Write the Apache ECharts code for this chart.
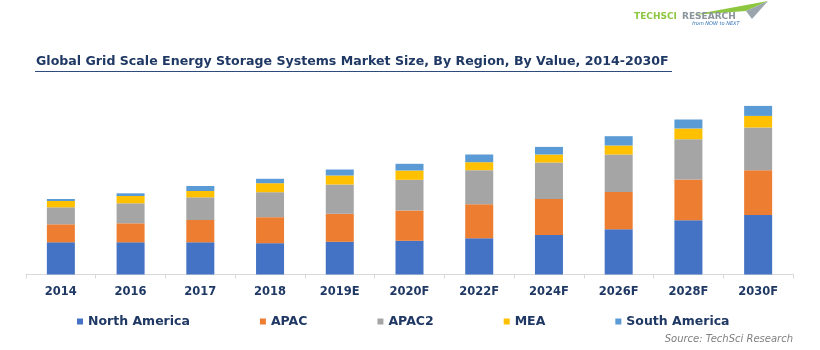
<!DOCTYPE html>
<html>
<head>
<meta charset="utf-8">
<script src="https://cdn.jsdelivr.net/npm/echarts@6/dist/echarts.min.js"></script>
<style>
    html, body { margin: 0; background: #fff; }
    #main { width: 820px; height: 350px; }
</style>
</head>
<body>
<div id="main"></div>
<script>
    var years = ['2014', '2016', '2017', '2018', '2019E', '2020F', '2022F', '2024F', '2026F', '2028F', '2030F'];
    var northAmerica = [32.2, 32.2, 32.2, 31.3, 32.7, 33.7, 36.3, 39.6, 45.3, 54.3, 59.6];
    var apac = [18, 19, 22.3, 26, 28, 30.3, 34, 36, 37.3, 40.7, 44.7];
    var apac2 = [17, 20, 22.7, 25, 29.3, 30.7, 34, 36.4, 37.4, 40.3, 42.7];
    var mea = [6.3, 7.3, 6.3, 9, 9, 9.3, 8, 8, 9, 10.7, 11.6];
    var southAmerica = [2, 2.7, 5, 4.4, 6, 6.7, 7.7, 7.6, 9.3, 9, 10];

    var navy = '#1f3864';
    var font = 'DejaVu Sans';

    var chart = echarts.init(document.getElementById('main'));

    function bar(name, data, color) {
        return {
            name: name,
            type: 'bar',
            stack: 'total',
            barWidth: 28,
            itemStyle: { color: color },
            data: data
        };
    }

    chart.setOption({
        animation: false,
        title: {
            text: 'Global Grid Scale Energy Storage Systems Market Size, By Region, By Value, 2014-2030F',
            left: 36,
            top: 55,
            padding: 0,
            textStyle: { fontFamily: font, fontSize: 12.6, fontWeight: 'bold', color: navy }
        },
        legend: {
            left: 77,
            top: 315,
            padding: 0,
            itemWidth: 6,
            itemHeight: 6,
            itemGap: 70,
            icon: 'rect',
            textStyle: { fontFamily: font, fontSize: 12.5, fontWeight: 'bold', color: navy },
            data: ['North America', 'APAC', 'APAC2', 'MEA', 'South America']
        },
        grid: { left: 26, right: 27, top: 99.5, bottom: 75.5 },
        xAxis: {
            type: 'category',
            data: years,
            axisLine: { lineStyle: { color: '#d9d9d9' } },
            axisTick: { show: true, length: 4, lineStyle: { color: '#d9d9d9' } },
            axisLabel: { margin: 12, fontFamily: font, fontSize: 11.5, fontWeight: 'bold', color: navy }
        },
        yAxis: {
            type: 'value',
            min: 0,
            max: 175,
            show: false,
            splitLine: { show: false }
        },
        series: [
            bar('North America', northAmerica, '#4472c4'),
            bar('APAC', apac, '#ed7d31'),
            bar('APAC2', apac2, '#a5a5a5'),
            bar('MEA', mea, '#ffc000'),
            bar('South America', southAmerica, '#5b9bd5')
        ],
        graphic: [
            // title underline
            { type: 'line', shape: { x1: 35, y1: 71.5, x2: 672, y2: 71.5 }, style: { stroke: '#2f4b7c', lineWidth: 1.2 } },
            // logo
            { type: 'polygon', shape: { points: [[692, 15], [768, 1], [746, 11]] }, style: { fill: '#8dc63f' } },
            { type: 'polygon', shape: { points: [[746, 11], [768, 1], [752, 19]] }, style: { fill: '#9aa5ad' } },
            { type: 'text', left: 634, top: 12, style: { text: 'TECHSCI', fill: '#8dc63f', font: 'bold 9px "DejaVu Sans"' } },
            { type: 'text', left: 682, top: 12, style: { text: 'RESEARCH', fill: '#8a949b', font: 'bold 9px "DejaVu Sans"' } },
            { type: 'text', left: 692, top: 21, style: { text: 'from NOW to NEXT', fill: '#2e6fb5', font: 'italic 5px "DejaVu Sans"' } },
            // source
            { type: 'text', right: 27, top: 334, style: { text: 'Source: TechSci Research', fill: '#808080', font: 'italic 10px "DejaVu Sans"' } }
        ]
    });
</script>
</body>
</html>
